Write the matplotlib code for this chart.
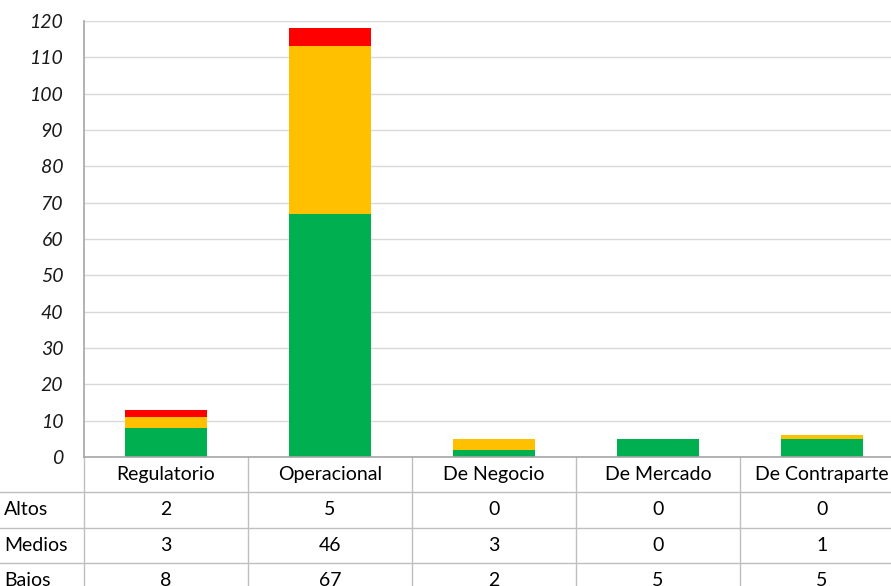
import matplotlib
matplotlib.use("Agg")
import matplotlib.pyplot as plt
import matplotlib.transforms as mtransforms
import numpy as np

categories = ["Regulatorio", "Operacional", "De Negocio", "De Mercado", "De Contraparte"]
row_labels = ["Altos", "Medios", "Bajos"]
altos = [2, 5, 0, 0, 0]
medios = [3, 46, 3, 0, 1]
bajos = [8, 67, 2, 5, 5]
yticks = [0, 10, 20, 30, 40, 50, 60, 70, 80, 90, 100, 110, 120]

c_altos = "#FF0000"
c_medios = "#FFC000"
c_bajos = "#00B050"
grid_c = "#D9D9D9"
line_c = "#BFBFBF"
txt_c = "#000000"

plt.rcParams['font.family'] = ['Lato', 'DejaVu Sans']

W, H = 891, 586
fig = plt.figure(figsize=(W / 100, H / 100), dpi=100)
left, right, top, bottom = 84, 904, 21, 457
ax = fig.add_axes([left / W, (H - bottom) / H, (right - left) / W, (bottom - top) / H])

x = np.arange(len(categories))
bw = 0.505
ax.bar(x, bajos, bw, color=c_bajos, zorder=3)
ax.bar(x, medios, bw, bottom=bajos, color=c_medios, zorder=3)
ax.bar(x, altos, bw, bottom=np.array(bajos) + np.array(medios), color=c_altos, zorder=3)

fs = 14
ax.set_xlim(-0.5, len(categories) - 0.5)
ax.set_ylim(0, 120)
ax.set_yticks(yticks)
ax.set_yticklabels([str(t) for t in yticks], fontstyle='italic', fontsize=fs, color="#1a1a1a")
ax.tick_params(axis='y', length=0, pad=15)
ax.set_xticks([])
ax.yaxis.grid(True, color=grid_c, linewidth=1, zorder=0)
for s in ['top', 'right', 'bottom']:
    ax.spines[s].set_visible(False)
ax.spines['left'].set_color("#A6A6A6")
ax.spines['left'].set_linewidth(1.2)

# Data table below the axes
trans = mtransforms.blended_transform_factory(ax.transData, fig.transFigure)
def fy(py):
    return (H - py) / H

row_h = 35.3
header_top = bottom
header_bot = bottom + row_h
edges = np.arange(len(categories) + 1) - 0.5

ax.plot([edges[0], edges[-1]], [fy(header_top)] * 2, transform=trans, color="#A6A6A6", lw=1.2, clip_on=False, zorder=5)
for e in edges:
    ax.plot([e, e], [fy(header_top), fy(H + 20)], transform=trans, color=line_c, lw=1, clip_on=False)
for i in range(len(row_labels)):
    yy = fy(header_bot + i * row_h)
    fig.add_artist(plt.Line2D([0, 1], [yy, yy], transform=fig.transFigure, color=line_c, lw=1))

for i, c in enumerate(categories):
    ax.text(i, fy(header_top + row_h / 2), c, transform=trans, ha='center', va='center',
            fontsize=fs, color=txt_c, clip_on=False)

rows = [altos, medios, bajos]
for r, (lab, vals) in enumerate(zip(row_labels, rows)):
    yc = fy(header_bot + r * row_h + row_h / 2)
    fig.text(4 / W, yc, lab, ha='left', va='center', fontsize=fs, color=txt_c)
    for i, v in enumerate(vals):
        ax.text(i, yc, str(v), transform=trans, ha='center', va='center',
                fontsize=fs, color=txt_c, clip_on=False)

fig.savefig("out.png", dpi=100)
